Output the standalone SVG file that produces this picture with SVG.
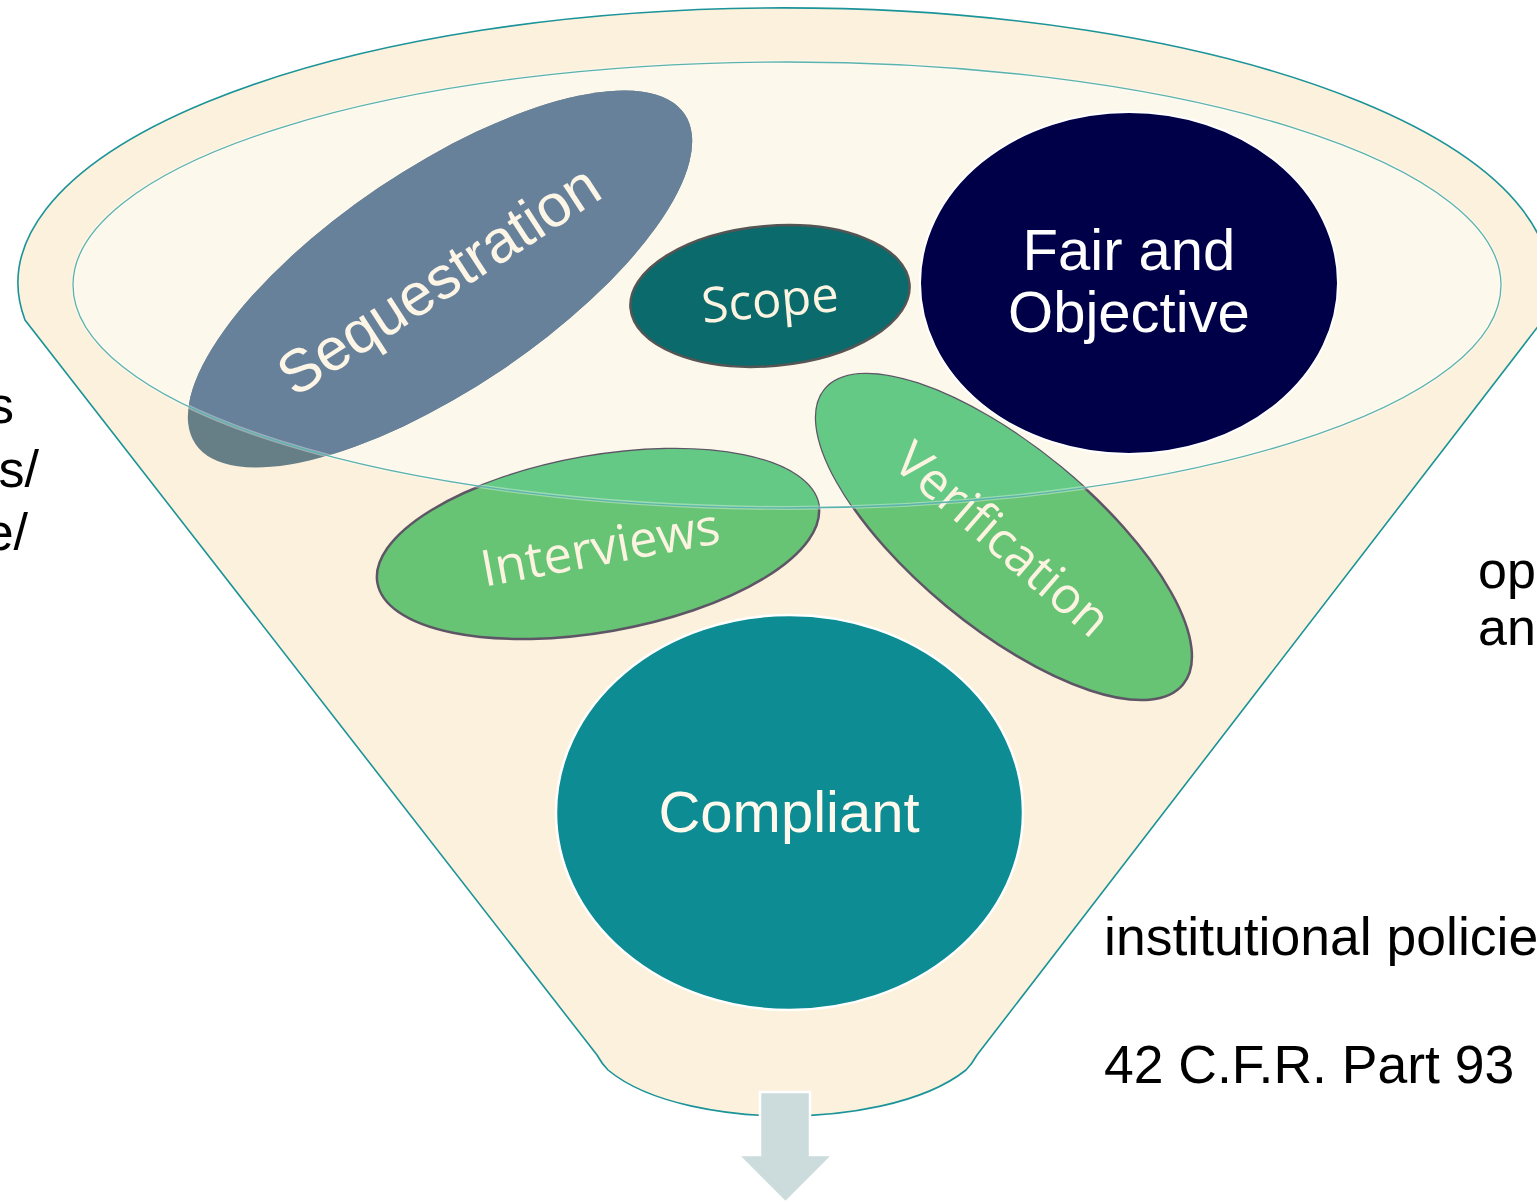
<svg xmlns="http://www.w3.org/2000/svg" width="1537" height="1201" viewBox="0 0 1537 1201">
<style>
.side{font-family:"Liberation Sans",Arial,sans-serif;font-size:52px;fill:#000}
.side2{font-family:"Liberation Sans",Arial,sans-serif;font-size:53.5px;fill:#000}
.arial{font-family:"Liberation Sans",Arial,sans-serif;text-anchor:middle}
.open{font-family:"Open Sans","Noto Sans",sans-serif;text-anchor:middle;fill:#FDF3E1}
.green{stroke:#5E5566;stroke-width:2.5}
</style>
<defs>
<clipPath id="innerClip"><ellipse cx="787" cy="285" rx="714" ry="223"/></clipPath>
</defs>
<rect width="1537" height="1201" fill="#FFFFFF"/>
<g id="funnel">
<path d="M25,320 A766,275 0 1 1 1543,320 L977,1055 Q972,1064 966,1070 C922,1105 842,1116 786,1116 C730,1116 650,1105 608,1070 Q602,1064 597,1055 Z" fill="#FCF1DC" stroke="#1A9399" stroke-width="1.6"/>
<ellipse cx="787" cy="285" rx="714" ry="223" fill="#FDF8EC"/>
</g>
<g id="node-sequestration">
<ellipse cx="440" cy="279" rx="295" ry="110" transform="rotate(-34 440 279)" fill="#667E86"/>
<g clip-path="url(#innerClip)"><ellipse cx="440" cy="279" rx="295" ry="110" transform="rotate(-34 440 279)" fill="#68819A"/></g>
<text class="arial" transform="translate(440,282) rotate(-33)" y="18" font-size="60" fill="#FDF5E6">Sequestration</text>
</g>
<g id="node-scope">
<ellipse cx="770" cy="296" rx="140" ry="70" transform="rotate(-5 770 296)" fill="#0B6A6B" stroke="#555555" stroke-width="2.5"/>
<text class="open" transform="translate(770,300) rotate(-5)" y="17" font-size="49">Scope</text>
</g>
<g id="node-fair">
<ellipse cx="1129" cy="283" rx="209" ry="171" fill="#000048" stroke="#FFFFFF" stroke-width="2"/>
<text class="arial" x="1129" y="270" font-size="58" fill="#FFFFFF">Fair and</text>
<text class="arial" x="1129" y="332" font-size="58" fill="#FFFFFF">Objective</text>
</g>
<g id="node-interviews">
<ellipse cx="598" cy="544" rx="224" ry="88" transform="rotate(-10 598 544)" fill="#66C474" class="green"/>
<g clip-path="url(#innerClip)"><ellipse cx="598" cy="544" rx="224" ry="88" transform="rotate(-10 598 544)" fill="#64C985"/></g>
<text class="open" transform="translate(600,547) rotate(-10.5)" y="18" font-size="50.5">Interviews</text>
</g>
<g id="node-verification">
<ellipse cx="1004" cy="537" rx="232" ry="90" transform="rotate(39.5 1004 537)" fill="#66C474" class="green"/>
<g clip-path="url(#innerClip)"><ellipse cx="1004" cy="537" rx="232" ry="90" transform="rotate(39.5 1004 537)" fill="#64C985"/></g>
<text class="open" transform="translate(1003,539) rotate(41)" y="18" font-size="50.5">Verification</text>
</g>
<g id="node-compliant">
<ellipse cx="789.5" cy="812.5" rx="233.5" ry="197.5" fill="#0E8C93" stroke="#FFFFFF" stroke-width="2.5"/>
<text class="arial" x="789" y="832" font-size="58" fill="#FFF8EC">Compliant</text>
</g>
<g id="funnel-rim">
<ellipse cx="787" cy="285" rx="714" ry="223" fill="none" stroke="#FFFFFF" stroke-opacity="0.35" stroke-width="4"/>
<ellipse cx="787" cy="285" rx="714" ry="223" fill="none" stroke="#5BB3AE" stroke-width="1.3"/>
</g>
<g id="connectors">
<path d="M760,1092 L810,1092 L810,1155 L833,1155 L785.5,1202.5 L738,1155 L760,1155 Z" fill="#CCDCDC" stroke="#FFFFFF" stroke-width="2.5"/>
</g>
<g id="side-text">
<text class="side" x="14" y="423" text-anchor="end">s</text>
<text class="side" x="39" y="487" text-anchor="end">ts/</text>
<text class="side" x="28" y="550" text-anchor="end">e/</text>
<text class="side" x="1478" y="588">op</text>
<text class="side" x="1478" y="645">an</text>
<text class="side2" x="1104" y="955">institutional policie</text>
<text class="side2" x="1104" y="1083">42 C.F.R. Part 93</text>
</g>
</svg>
